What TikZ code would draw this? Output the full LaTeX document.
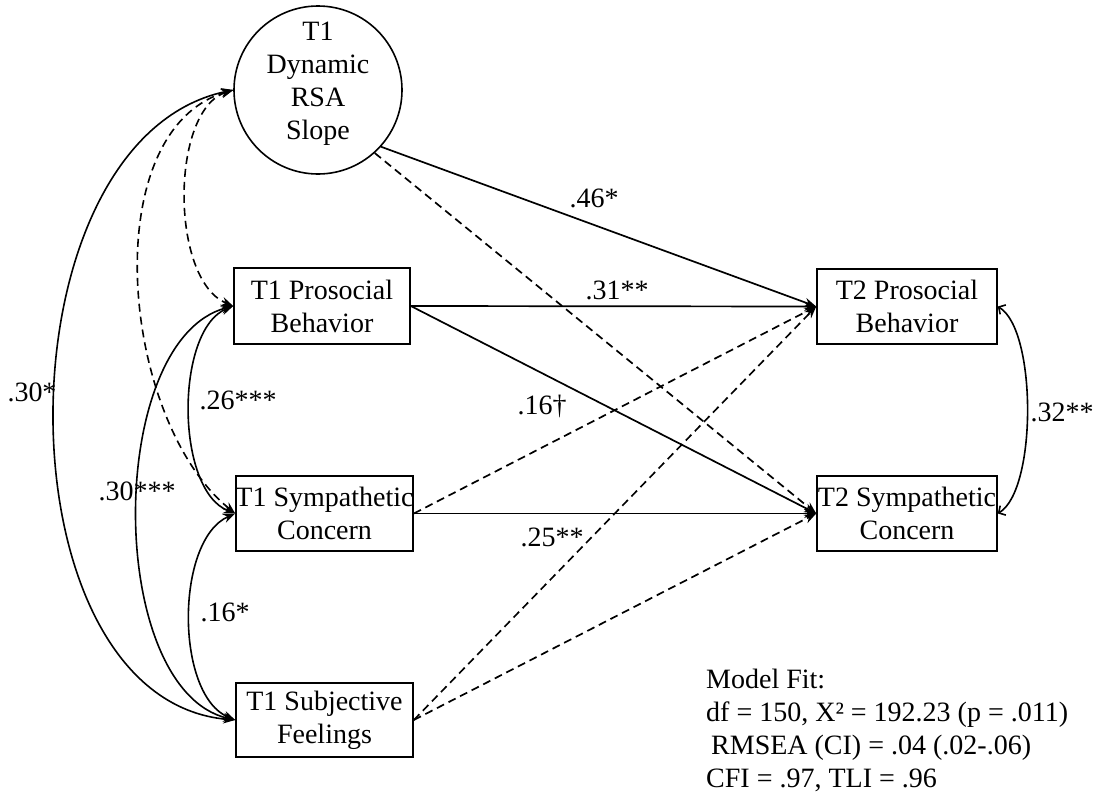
\documentclass[tikz,border=0pt]{standalone}
\usepackage{fontspec}
\setmainfont{Liberation Serif}
\usetikzlibrary{arrows.meta}
\begin{document}
\begin{tikzpicture}[x=1pt,y=-1pt,
  every node/.style={font=\fontsize{28}{33}\selectfont, inner sep=0pt},
  varbox/.style={draw, line width=1.6pt, rectangle, align=center},
  lat/.style={draw, line width=1.6pt, circle, minimum size=168pt},
  path/.style={line width=1.7pt, -{Stealth[length=12pt,width=9pt]}},
  dpath/.style={path, dash pattern=on 8pt off 5pt},
  cov/.style={line width=1.6pt, {Stealth[length=12pt,width=9pt]}-{Stealth[length=12pt,width=9pt]}},
  dcov/.style={cov, dash pattern=on 8pt off 5pt},
  bcov/.style={line width=1.6pt, {Straight Barb[length=5pt,width=11pt]}-{Straight Barb[length=5pt,width=11pt]}},
  coef/.style={}
]
\path[use as bounding box] (0,0) rectangle (1103,798);

% nodes
\node[lat, label={[yshift=6pt, align=center]center:{T1\\Dynamic\\RSA\\Slope}}] (rsa) at (318,90) {};
\node[varbox, minimum width=176pt, minimum height=76pt] (p1) at (322,306)
  {\makebox[0pt]{T1 Prosocial}\\\makebox[0pt]{Behavior}};
\node[varbox, minimum width=177pt, minimum height=75pt] (s1) at (324.5,513.5)
  {\makebox[0pt]{T1 Sympathetic}\\\makebox[0pt]{Concern}};
\node[varbox, minimum width=177pt, minimum height=74pt] (f1) at (324.5,720)
  {\makebox[0pt]{T1 Subjective}\\\makebox[0pt]{Feelings}};
\node[varbox, minimum width=180pt, minimum height=75pt] (p2) at (907,306.5)
  {\makebox[0pt]{T2 Prosocial}\\\makebox[0pt]{Behavior}};
\node[varbox, minimum width=180pt, minimum height=75pt] (s2) at (907,513.5)
  {\makebox[0pt]{T2 Sympathetic}\\\makebox[0pt]{Concern}};

% regression paths
\draw[path] (rsa.-42) -- (p2.west);
\draw[dpath] (rsa.-48) -- (s2.west);
\draw[path] (p1.east) -- (p2.west);
\draw[path] (p1.east) -- (s2.west);
\draw[dpath] (s1.east) -- (p2.west);
\draw[path] (s1.east) -- (s2.west);
\draw[dpath] (f1.east) -- (p2.west);
\draw[dpath] (f1.east) -- (s2.west);

% covariances
\draw[cov] (rsa.west) .. controls (-5,140) and (-5,700) .. (f1.west);
\draw[dcov] (rsa.west) .. controls (170,110) and (170,280) .. (p1.west);
\draw[dcov] (rsa.west) .. controls (95,130) and (120,420) .. (s1.west);
\draw[cov] (p1.west) .. controls (175,330) and (175,490) .. (s1.west);
\draw[cov] (p1.west) .. controls (105,340) and (105,690) .. (f1.west);
\draw[cov] (s1.west) .. controls (175,540) and (175,695) .. (f1.west);
\draw[bcov] (p2.east) .. controls (1037,330) and (1037,490) .. (s2.east);

% coefficients
\node[coef] (c46) at (594,198) {.46*};
\node[coef] (c31) at (617,290) {.31**};
\node[coef] (c16d) at (542,406) {.16†};
\node[coef] (c25) at (552,537) {.25**};
\node[coef] (c26) at (238,400) {.26***};
\node[coef] (c30b) at (137,491) {.30***};
\node[coef] (c30a) at (32,392) {.30*};
\node[coef] (c16) at (225,612) {.16*};
\node[coef] (c32) at (1062,412) {.32**};

% model fit
\node[anchor=north west, align=left] (fit) at (706,669)
  {Model Fit:\\df = 150, X² = 192.23 (p = .011)\\\hspace{5pt}RMSEA (CI) = .04 (.02-.06)\\CFI = .97, TLI = .96};
\end{tikzpicture}
\end{document}
